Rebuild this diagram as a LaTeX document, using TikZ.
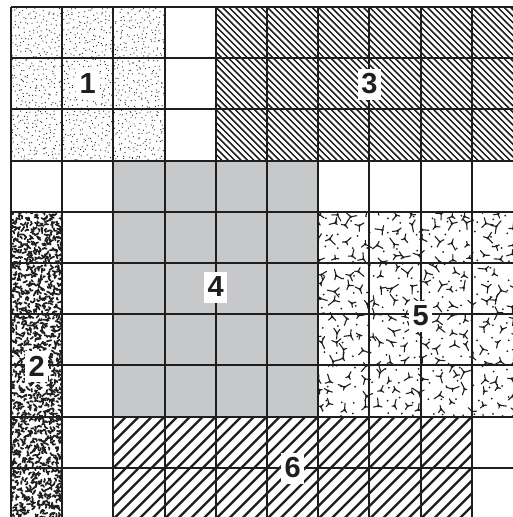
\documentclass[tikz,border=0pt]{standalone}
\usepackage{fontspec}
\setmainfont{Liberation Sans}
\definecolor{fourgray}{RGB}{199,200,202}
\definecolor{ink}{RGB}{30,30,30}
\begin{document}
\begin{tikzpicture}[x=1pt,y=-1pt,
  gridline/.style={line width=1.9pt, draw=ink},
  hatchthin/.style={line width=1.5pt, draw=ink},
  hatchthick/.style={line width=2.3pt, draw=ink},
  lab/.style={fill=white, inner sep=0pt, minimum width=23pt, minimum height=31pt,
    font=\fontsize{29}{29}\selectfont\bfseries, text=ink}]
\useasboundingbox (0,0) rectangle (513,517);
\fill[white] (0,0) rectangle (513,517);
\pgfmathsetseed{11}
% region 1: stipple (jittered grid)
\begin{scope}
\clip (11,7) rectangle (164.6,160.6);
\foreach \i in {0,...,34}{
  \foreach \j in {0,...,34}{
    \pgfmathsetmacro{\px}{11+4.5*\i+2.2*rand}
    \pgfmathsetmacro{\py}{7+4.5*\j+2.2*rand}
    \fill[ink] (\px,\py) circle[radius=0.6pt];
  }
}
\end{scope}
% region 2: blobs
\begin{scope}
\clip (11,211.8) rectangle (62.2,517);
\foreach \i in {0,...,13}{
  \foreach \j in {0,...,77}{
    \pgfmathsetmacro{\px}{10+4*\i+2*rand}
    \pgfmathsetmacro{\py}{210+4*\j+2*rand}
    \pgfmathsetmacro{\pa}{360*rnd}
    \pgfmathsetmacro{\pb}{\pa+100*rand}
    \pgfmathsetmacro{\pl}{1.2+1.6*rnd}
    \draw[ink, line width=1.7pt, line cap=round, line join=round] (\px,\py) -- ++(\pa:\pl) -- ++(\pb:\pl);
  }
}
\end{scope}
% region 5: cracks
\begin{scope}
\clip (318.2,211.8) rectangle (513,416.6);
\foreach \i in {0,...,13}{
  \foreach \j in {0,...,14}{
    \pgfmathsetmacro{\px}{318+15*\i+5*rand}
    \pgfmathsetmacro{\py}{212+15*\j+5*rand}
    \pgfmathsetmacro{\pa}{360*rnd}
    \pgfmathsetmacro{\la}{3+5*rnd}
    \pgfmathsetmacro{\lb}{3+5*rnd}
    \pgfmathsetmacro{\lc}{2+4*rnd}
    \pgfmathsetmacro{\ab}{\pa+120+30*rand}
    \pgfmathsetmacro{\ac}{\pa+240+30*rand}
    \draw[ink, line width=1.1pt, line cap=round] (\px,\py) -- ++(\pa:\la) (\px,\py) -- ++(\ab:\lb) (\px,\py) -- ++(\ac:\lc);
    \fill[ink] (\px,\py) circle[radius=1.4pt];
    \pgfmathsetmacro{\qx}{325+15*\i+4*rand}
    \pgfmathsetmacro{\qy}{219+15*\j+4*rand}
    \fill[ink] (\qx,\qy) circle[radius=1pt];
  }
}
\end{scope}
% region 3: hatch
\begin{scope}
\clip (215.8,7) rectangle (513,160.6);
\foreach \k in {0,...,73}{
  \draw[hatchthin] (55.8+6.4*\k,7) -- ++(160,160);
}
\end{scope}
% region 6: hatch
\begin{scope}
\clip (113.4,416.6) rectangle (471.8,517);
\foreach \k in {0,...,40}{
  \draw[hatchthick] (113.4+12.8*\k,416.6) -- ++(-110,110);
}
\end{scope}
% region 4: gray
\fill[fourgray] (113.4,160.6) rectangle (318.2,416.6);
% grid
\foreach \k in {0,...,9}{
  \draw[gridline] (11+51.2*\k,7) -- (11+51.2*\k,517);
  \draw[gridline] (11,7+51.2*\k) -- (513,7+51.2*\k);
}
% labels
\node[lab] (l1) at (87.8,83.8) {1};
\node[lab] (l3) at (369.4,84) {3};
\node[lab] (l4) at (215.8,287) {4};
\node[lab] (l2) at (36.6,366) {2};
\node[lab] (l5) at (420.6,316) {5};
\node[lab] (l6) at (292.6,468) {6};
\end{tikzpicture}
\end{document}
